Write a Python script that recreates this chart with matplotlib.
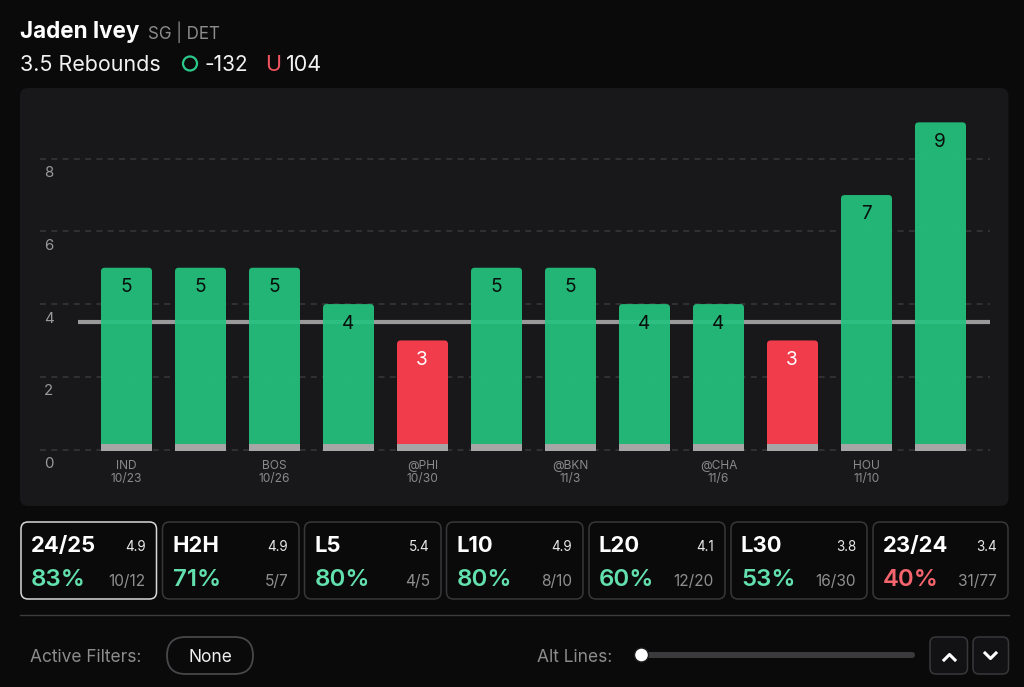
import matplotlib
matplotlib.use('Agg')
import matplotlib.pyplot as plt
from matplotlib.patches import FancyBboxPatch, Circle

plt.rcParams['font.family'] = ['Inter', 'DejaVu Sans']

# chart data
values = [5, 5, 5, 4, 3, 5, 5, 4, 4, 3, 7, 9]
prop_line = 3.5
base_height = 0.22
base_bottom = -0.055
tick_games = ['IND', 'BOS', '@PHI', '@BKN', '@CHA', 'HOU']
tick_dates = ['10/23', '10/26', '10/30', '11/3', '11/6', '11/10']
tick_pos = [0, 2, 4, 6, 8, 10]
y_ticks = [0, 2, 4, 6, 8]

# cards under the chart
card_names = ['24/25', 'H2H', 'L5', 'L10', 'L20', 'L30', '23/24']
card_avgs = ['4.9', '4.9', '5.4', '4.9', '4.1', '3.8', '3.4']
card_pcts = ['83%', '71%', '80%', '80%', '60%', '53%', '40%']
card_records = ['10/12', '5/7', '4/5', '8/10', '12/20', '16/30', '31/77']
card_left = [21, 162.5, 304.5, 446.5, 589, 731, 873]
card_right = [156.5, 299, 441, 583, 725, 867, 1008]

GREEN = '#24c37f'
RED = '#f03c4b'
GREY = '#a6a6a6'
BG = '#0a0a0b'
PANEL = '#18181b'

W, H = 1024, 687
fig = plt.figure(figsize=(W / 100, H / 100), dpi=100, facecolor=BG)

# background layer in pixel coords
bg = fig.add_axes([0, 0, 1, 1])
bg.set_xlim(0, W)
bg.set_ylim(H, 0)
bg.axis('off')


def rbox(x0, y0, x1, y1, r, fc, ec='none', lw=0, z=1):
    bg.add_patch(FancyBboxPatch((x0 + r, y0 + r), x1 - x0 - 2 * r, y1 - y0 - 2 * r,
                                boxstyle='round,pad=%f,rounding_size=%f' % (r, r),
                                fc=fc, ec=ec, lw=lw, zorder=z))


def px(size):
    return size * 0.72


# header
bg.text(20, 32, 'Jaden Ivey', color='white', fontsize=px(22.4), fontweight='bold', va='center')
bg.text(148, 32.5, 'SG | DET', color='#8c8c8c', fontsize=px(17), va='center')
bg.text(20, 65, '3.5 Rebounds', color='#f2f2f2', fontsize=px(21.5), va='center')
bg.add_patch(Circle((190, 63.5), 7, fc='none', ec='#2cc98c', lw=1.6))
bg.text(204, 65, '-132', color='#f2f2f2', fontsize=px(20.8), va='center')
bg.text(273, 65, 'U', color='#f0555f', fontsize=px(21.5), va='center', ha='center')
bg.text(286, 65, '104', color='#f2f2f2', fontsize=px(21.5), va='center')

# chart panel
rbox(20, 88, 1008.5, 506, 8, PANEL)

# chart axes, pixel box picked so one category = 74px and one unit = 36.35px
ax_left, ax_right = 40, 990
ax_bottom, ax_top = 456, 100
ax = fig.add_axes([ax_left / W, 1 - ax_bottom / H, (ax_right - ax_left) / W, (ax_bottom - ax_top) / H])
ax.patch.set_alpha(0)
unit_x = 74.0
unit_y = 36.35
ax.set_xlim((ax_left - 126.5) / unit_x, (ax_right - 126.5) / unit_x)
ax.set_ylim((449.5 - ax_bottom) / unit_y, (449.5 - ax_top) / unit_y)
for s in ax.spines.values():
    s.set_visible(False)

ax.set_yticks(y_ticks)
ax.set_yticklabels([])
ax.tick_params(axis='y', length=0)
ax.grid(axis='y', color='#333336', lw=1.3, ls=(0, (3.3, 2.95)), zorder=0)
for t in y_ticks:
    ax.annotate(str(t), (0, t), xycoords=('axes fraction', 'data'), xytext=(3, -10.5), textcoords='offset points',
                color='#9a9a9a', fontsize=px(15), va='center', ha='left', annotation_clip=False)

ax.set_xticks(tick_pos)
ax.set_xticklabels([g + '\n' + d for g, d in zip(tick_games, tick_dates)], color='#8a8a8a',
                   fontsize=px(12), linespacing=1.1)
ax.tick_params(axis='x', length=0, pad=3)

# line sits under the bars, the bars are slightly see through
ax.plot([-0.65, 11.67], [prop_line, prop_line], color='#9a9a9a', lw=3, zorder=1.5, solid_capstyle='butt')

bar_w = 51 / unit_x
aspect = unit_x / unit_y
for i, v in enumerate(values):
    over = v > prop_line
    ax.add_patch(FancyBboxPatch((i - bar_w / 2, 0), bar_w, v, boxstyle='round,pad=0,rounding_size=0.05',
                                mutation_aspect=aspect, fc=GREEN if over else RED, ec='none',
                                alpha=0.92 if over else 1, zorder=2))
    ax.bar(i, base_height, bar_w, bottom=base_bottom, color=GREY, zorder=3)
    ax.annotate(str(v), (i - 0.007, v), xytext=(0, -14), textcoords='offset points', ha='center', va='center',
                color='white' if not over else '#08100c', fontsize=px(19), zorder=6)

# stat cards
for i, name in enumerate(card_names):
    x0, x1 = card_left[i], card_right[i]
    sel = i == 0
    rbox(x0, 522, x1, 599, 7, BG, ec='#d8d8d8' if sel else '#38383b', lw=1.1, z=1)
    bg.text(x0 + 10, 545.5, name, color='white', fontsize=px(22), fontweight='bold', va='center')
    bg.text(x1 - 11, 547, card_avgs[i], color='#e8e8e8', fontsize=px(13.5), va='center', ha='right')
    pct_col = '#f4646c' if int(card_pcts[i][:-1]) < 50 else '#62e0ae'
    bg.text(x0 + 10, 579.5, card_pcts[i], color=pct_col, fontsize=px(24), fontweight='semibold', va='center')
    bg.text(x1 - 11, 581, card_records[i], color='#8f8f8f', fontsize=px(15.5), va='center', ha='right')

bg.plot([20, 1008.5], [615, 615], color='#3c3c3f', lw=1.0)

# filter row
bg.text(30, 657, 'Active Filters:', color='#8c8c8c', fontsize=px(17.4), va='center')
rbox(167, 637, 253, 674, 18.5, BG, ec='#48484b', lw=1.3)
bg.text(210, 657, 'None', color='#f0f0f0', fontsize=px(17.4), va='center', ha='center')
bg.text(537, 657, 'Alt Lines:', color='#8c8c8c', fontsize=px(17.4), va='center')
rbox(640, 652, 915, 658, 3, '#3a3a3c')
bg.add_patch(Circle((641.5, 655), 7, fc='white', ec='#1c1c1c', lw=1, zorder=3))
rbox(930, 637, 967.5, 674, 6, '#121214', ec='#38383b', lw=1.1)
rbox(973, 637, 1008.5, 674, 6, '#121214', ec='#38383b', lw=1.1)
bg.plot([944, 949.5, 955], [660, 654.5, 660], color='white', lw=2.2)
bg.plot([985, 990.5, 996], [653, 658.5, 653], color='white', lw=2.2)

fig.savefig('out.png', dpi=100, facecolor=BG)
